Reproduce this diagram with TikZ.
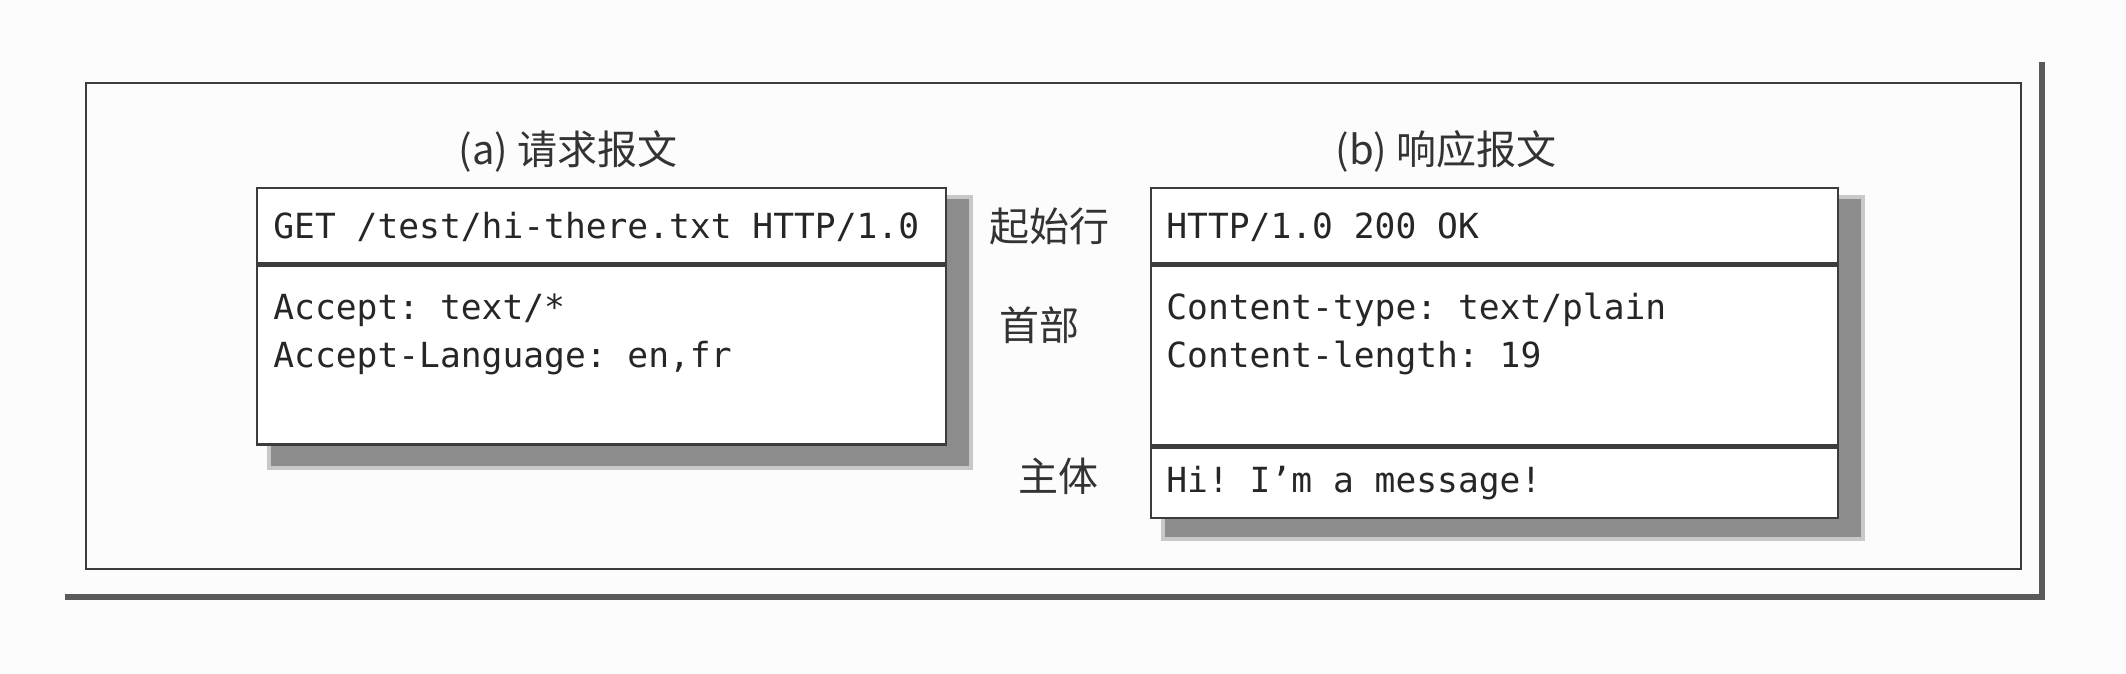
\documentclass[tikz,border=0pt]{standalone}
\usepackage{fontspec}
\setmonofont{DejaVu Sans Mono}
\newfontfamily\cjk{Noto Sans CJK SC}
\usepackage{tikz}
\definecolor{framegray}{RGB}{60, 60, 60}
\definecolor{outergray}{RGB}{90, 90, 90}
\definecolor{shadowgray}{RGB}{140, 140, 140}
\definecolor{shadowhalo}{RGB}{200, 200, 200}
\definecolor{background}{RGB}{252, 252, 252}

\tikzset{
	part/.style={draw=framegray, line width=1.2pt, fill=white, anchor=north west, inner sep=0pt},
	msg/.style={anchor=base west, inner sep=0pt, text=black!85, font=\ttfamily\fontsize{17.3}{24}\selectfont},
	caption/.style={inner sep=0pt, text=black!80, font=\cjk\fontsize{20}{24}\selectfont}
}

\begin{document}
\begin{tikzpicture}[x=0.5pt, y=-0.5pt]
	
	% Fix the page size to the reference
	\useasboundingbox (0,0) rectangle (2126,674);
	\fill[background] (0,0) rectangle (2126,674);
	
	% --- Frame ---
	\draw[line width=2.6pt, outergray] (65,597) -- (2042,597) -- (2042,62);
	\draw[line width=1.3pt, framegray] (86,83) rectangle (2021,569);
	
	% --- Shadows behind the two messages ---
	\fill[shadowhalo] (267,195) rectangle (973,470);
	\fill[shadowgray] (271,199) rectangle (969,466);
	\fill[shadowhalo] (1161,195) rectangle (1865,541);
	\fill[shadowgray] (1165,199) rectangle (1861,537);
	
	% --- (a) Request message ---
	\node[caption] (reqtitle) at (568,151) {(a) 请求报文};
	\node[part, minimum width=344.5pt, minimum height=37.5pt] (reqstartpart) at (256,187) {};
	\node[part, minimum width=344.5pt, minimum height=89.5pt] (reqheadpart) at (reqstartpart.south west) {};
	\node[msg] (reqline) at ([xshift=8.5pt, yshift=-25.5pt]reqstartpart.north west) {GET /test/hi-there.txt HTTP/1.0};
	\node[msg] (reqaccept) at ([xshift=8.5pt, yshift=-27.5pt]reqheadpart.north west) {Accept: text/*};
	\node[msg] (reqlang) at ([yshift=-24pt]reqaccept.base west) {Accept-Language: en,fr};
	
	% --- Part names ---
	\node[caption] (startlabel) at (1049,226) {起始行};
	\node[caption] (headlabel) at (1039,325) {首部};
	\node[caption] (bodylabel) at (1058,476) {主体};
	
	% --- (b) Response message ---
	\node[caption] (resptitle) at (1446,151) {(b) 响应报文};
	\node[part, minimum width=343.5pt, minimum height=37.5pt] (respstartpart) at (1150,187) {};
	\node[part, minimum width=343.5pt, minimum height=90pt] (respheadpart) at (respstartpart.south west) {};
	\node[part, minimum width=343.5pt, minimum height=35pt] (respbodypart) at (respheadpart.south west) {};
	\node[msg] (respline) at ([xshift=8pt, yshift=-25.5pt]respstartpart.north west) {HTTP/1.0 200 OK};
	\node[msg] (resptype) at ([xshift=8pt, yshift=-27.5pt]respheadpart.north west) {Content-type: text/plain};
	\node[msg] (resplength) at ([yshift=-24pt]resptype.base west) {Content-length: 19};
	\node[msg] (respmsg) at ([xshift=8pt, yshift=-23pt]respbodypart.north west) {Hi! I’m a message!};
	
\end{tikzpicture}
\end{document}
